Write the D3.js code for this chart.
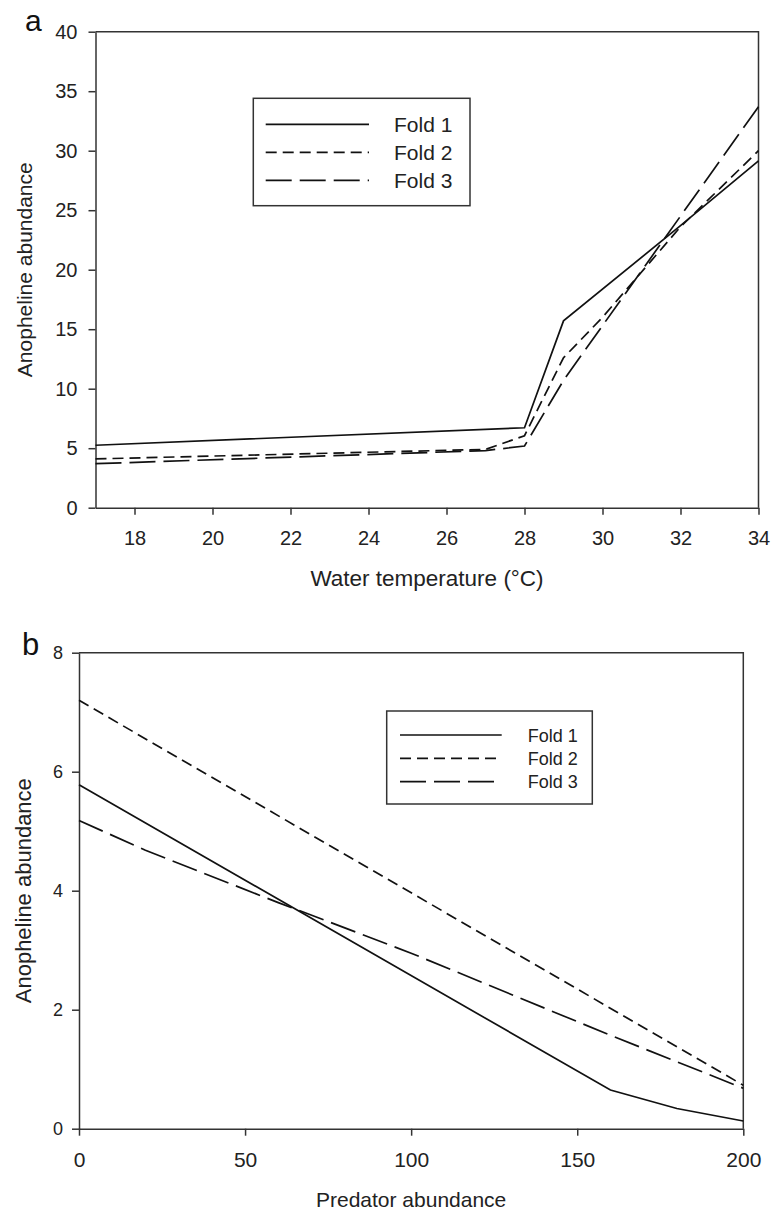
<!DOCTYPE html>
<html>
<head>
<meta charset="utf-8">
<script src="https://cdn.jsdelivr.net/npm/d3@7"></script>
<style>
  html, body { margin: 0; padding: 0; background: #fff; }
  svg { display: block; font-family: Arial, "Liberation Sans", sans-serif; }
</style>
</head>
<body>
<svg id="chart" width="774" height="1210"></svg>
<script>
// ---------- Data ----------
const seriesNames = ["Fold 1", "Fold 2", "Fold 3"];

// Panel a: Water temperature (°C) vs Anopheline abundance
const tempTicks = [18, 20, 22, 24, 26, 28, 30, 32, 34];
const abundTicksA = [0, 5, 10, 15, 20, 25, 30, 35, 40];
const fold1Temp = [17, 28, 29, 32, 34];
const fold1A    = [5.25, 6.72, 15.7, 23.7, 29.15];
const fold2Temp = [17, 27, 28, 29, 30, 32, 34];
const fold2A    = [4.1, 4.9, 6.05, 12.6, 16.0, 23.6, 30.0];
const fold3Temp = [17, 27, 28, 29, 34];
const fold3A    = [3.7, 4.8, 5.18, 10.7, 33.7];

// Panel b: Predator abundance vs Anopheline abundance
const predTicks = [0, 50, 100, 150, 200];
const abundTicksB = [0, 2, 4, 6, 8];
const fold1Pred = [0, 160, 180, 200];
const fold1B    = [5.78, 0.65, 0.34, 0.13];
const fold2Pred = [0, 200];
const fold2B    = [7.2, 0.73];
const fold3Pred = [0, 20, 60, 100, 160, 200];
const fold3B    = [5.18, 4.68, 3.8, 2.95, 1.57, 0.68];

// ---------- Styles ----------
const dashes = [null, "11,6", "26,8"];
const axisColor = "#333";
const lineColor = "#111";

const svg = d3.select("#chart");

function drawPanel(cfg) {
  const g = svg.append("g");
  const x = d3.scaleLinear().domain(cfg.xDomain).range([cfg.left, cfg.right]);
  const y = d3.scaleLinear().domain(cfg.yDomain).range([cfg.bottom, cfg.top]);

  // frame (top and right)
  g.append("path")
    .attr("d", `M${cfg.left},${cfg.top}H${cfg.right}V${cfg.bottom}`)
    .attr("fill", "none").attr("stroke", axisColor).attr("stroke-width", 1.5);

  const xAxis = g.append("g")
    .attr("transform", `translate(0,${cfg.bottom})`)
    .call(d3.axisBottom(x).tickValues(cfg.xTicks).tickSize(7).tickSizeOuter(0).tickPadding(cfg.xPad));
  xAxis.selectAll("text").attr("font-size", cfg.xFont).attr("fill", "#222");

  const yAxis = g.append("g")
    .attr("transform", `translate(${cfg.left},0)`)
    .call(d3.axisLeft(y).tickValues(cfg.yTicks).tickSize(7).tickSizeOuter(0).tickPadding(cfg.yPad));
  yAxis.selectAll("text").attr("font-size", cfg.yFont).attr("fill", "#222");

  [xAxis, yAxis].forEach(a => {
    a.selectAll("path, line").attr("stroke", axisColor).attr("stroke-width", 1.5);
    a.attr("font-family", null);
  });

  // lines
  const line = d3.line().x(d => x(d[0])).y(d => y(d[1]));
  cfg.series.forEach((s, i) => {
    const pts = s.xs.map((v, k) => [v, s.ys[k]]);
    g.append("path")
      .datum(pts)
      .attr("d", line)
      .attr("fill", "none")
      .attr("stroke", lineColor)
      .attr("stroke-width", 1.7)
      .attr("stroke-dasharray", dashes[i]);
  });

  // axis titles
  g.append("text")
    .attr("x", (cfg.left + cfg.right) / 2)
    .attr("y", cfg.xTitleY)
    .attr("text-anchor", "middle")
    .attr("font-size", cfg.xTitleFont)
    .attr("fill", "#222")
    .text(cfg.xTitle);

  g.append("text")
    .attr("transform", `translate(${cfg.yTitleX},${(cfg.top + cfg.bottom) / 2}) rotate(-90)`)
    .attr("text-anchor", "middle")
    .attr("font-size", cfg.yTitleFont)
    .attr("fill", "#222")
    .text(cfg.yTitle);

  // panel letter
  g.append("text")
    .attr("x", cfg.letterX).attr("y", cfg.letterY)
    .attr("font-size", cfg.letterFont)
    .attr("fill", "#111")
    .text(cfg.letter);

  // legend
  const L = cfg.legend;
  g.append("rect")
    .attr("x", L.x).attr("y", L.y).attr("width", L.w).attr("height", L.h)
    .attr("fill", "#fff").attr("stroke", axisColor).attr("stroke-width", 1.5);
  seriesNames.forEach((name, i) => {
    const ly = L.firstRow + i * L.rowGap;
    g.append("line")
      .attr("x1", L.lineX1).attr("x2", L.lineX2)
      .attr("y1", ly).attr("y2", ly)
      .attr("stroke", lineColor).attr("stroke-width", 1.7)
      .attr("stroke-dasharray", dashes[i]);
    g.append("text")
      .attr("x", L.textX).attr("y", ly + L.baseOff)
      .attr("font-size", L.font).attr("fill", "#222")
      .text(name);
  });
}

drawPanel({
  left: 95.5, right: 758.5, top: 31.7, bottom: 507.7,
  xDomain: [17, 34], yDomain: [0, 40],
  xTicks: tempTicks, yTicks: abundTicksA,
  xFont: 20, yFont: 20, xPad: 16, yPad: 11,
  xTitle: "Water temperature (°C)", xTitleY: 586, xTitleFont: 22.5,
  yTitle: "Anopheline abundance", yTitleX: 32, yTitleFont: 21,
  letter: "a", letterX: 25, letterY: 31, letterFont: 30,
  series: [
    { xs: fold1Temp, ys: fold1A },
    { xs: fold2Temp, ys: fold2A },
    { xs: fold3Temp, ys: fold3A }
  ],
  legend: { x: 253.3, y: 98.3, w: 216.7, h: 107.4, firstRow: 124.3, rowGap: 28,
            lineX1: 265.7, lineX2: 369, textX: 394, baseOff: 7.5, font: 21 }
});

drawPanel({
  left: 79, right: 743.3, top: 652.7, bottom: 1128.7,
  xDomain: [0, 200], yDomain: [0, 8],
  xTicks: predTicks, yTicks: abundTicksB,
  xFont: 21, yFont: 18, xPad: 16, yPad: 9,
  xTitle: "Predator abundance", xTitleY: 1207, xTitleFont: 21,
  yTitle: "Anopheline abundance", yTitleX: 31, yTitleFont: 22,
  letter: "b", letterX: 22, letterY: 655, letterFont: 31,
  series: [
    { xs: fold1Pred, ys: fold1B },
    { xs: fold2Pred, ys: fold2B },
    { xs: fold3Pred, ys: fold3B }
  ],
  legend: { x: 386.7, y: 711, w: 205.6, h: 93, firstRow: 735, rowGap: 23.3,
            lineX1: 400, lineX2: 501.7, textX: 527.7, baseOff: 6.7, font: 18 }
});
</script>
</body>
</html>
